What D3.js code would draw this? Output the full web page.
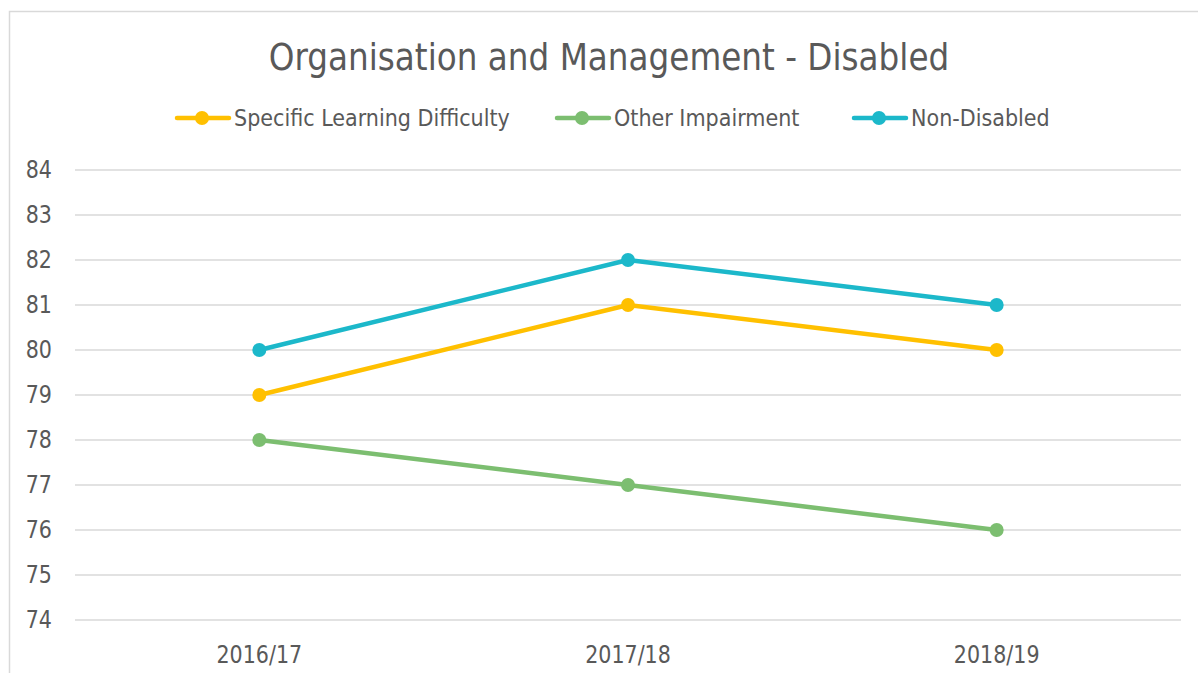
<!DOCTYPE html>
<html lang="en">
<head>
<meta charset="utf-8">
<style>
    body { margin: 0; background: #fff; }
    svg text { font-family: "DejaVu Sans", Verdana, sans-serif; fill: #595959; }
</style>
</head>
<body>
<svg id="chart"></svg>
<script src="https://d3js.org/d3.v7.min.js"></script>
<script>

    // data
    var years = ["2016/17", "2017/18", "2018/19"];
    var seriesNames = ["Specific Learning Difficulty", "Other Impairment", "Non-Disabled"];
    var seriesColors = ["#FFC000", "#7CBE70", "#1CB8CA"];
    var specificLearning = [79, 81, 80];
    var otherImpairment = [78, 77, 76];
    var nonDisabled = [80, 82, 81];
    var yTicks = [74, 75, 76, 77, 78, 79, 80, 81, 82, 83, 84];

    var width = 1198, height = 673;
    var plotLeft = 75, plotRight = 1181, plotTop = 170, plotBottom = 620;
    // DejaVu is wider than the Tahoma-like original, so squeeze it a bit
    var squeeze = "scale(0.86,1)";

    var svg = d3.select("#chart")
        .attr("width", width)
        .attr("height", height);

    // outer chart border (runs off the right and bottom edge)
    svg.append("rect")
        .attr("x", 9.5)
        .attr("y", 11.5)
        .attr("width", 1200)
        .attr("height", 700)
        .attr("fill", "none")
        .attr("stroke", "#d9d9d9")
        .attr("stroke-width", 1.5);

    var x = d3.scaleBand()
        .domain(years)
        .range([plotLeft, plotRight]);

    var y = d3.scaleLinear()
        .domain([74, 84])
        .range([plotBottom, plotTop]);

    // gridlines
    svg.append("g")
        .selectAll("line")
        .data(yTicks)
        .enter()
        .append("line")
        .attr("x1", plotLeft)
        .attr("x2", plotRight)
        .attr("y1", function (d) { return y(d); })
        .attr("y2", function (d) { return y(d); })
        .attr("stroke", "#d9d9d9")
        .attr("stroke-width", 1.5);

    // y axis labels
    var yAxis = d3.axisLeft(y).tickValues(yTicks).tickSize(0).tickPadding(0);
    var yg = svg.append("g")
        .attr("transform", "translate(52,0)")
        .call(yAxis);
    yg.select(".domain").remove();
    yg.selectAll("text")
        .attr("font-size", "24px")
        .attr("font-family", null)
        .attr("transform", squeeze)
        .attr("fill", "#595959");

    // x axis labels
    var xAxis = d3.axisBottom(x).tickSize(0).tickPadding(0);
    var xg = svg.append("g")
        .attr("transform", "translate(0,646)")
        .call(xAxis);
    xg.select(".domain").remove();
    xg.selectAll("text")
        .attr("font-size", "24px")
        .attr("transform", squeeze)
        .attr("fill", "#595959");
    svg.selectAll(".tick text").style("font-family", "DejaVu Sans");

    var allSeries = [specificLearning, otherImpairment, nonDisabled];

    var line = d3.line()
        .x(function (d, i) { return x(years[i]) + x.bandwidth() / 2; })
        .y(function (d) { return y(d); });

    // lines + markers
    for (var s = 0; s < allSeries.length; s++) {
        var g = svg.append("g");
        g.append("path")
            .attr("d", line(allSeries[s]))
            .attr("fill", "none")
            .attr("stroke", seriesColors[s])
            .attr("stroke-width", 4.5)
            .attr("stroke-linejoin", "round")
            .attr("stroke-linecap", "round");
        g.selectAll("circle")
            .data(allSeries[s])
            .enter()
            .append("circle")
            .attr("cx", function (d, i) { return x(years[i]) + x.bandwidth() / 2; })
            .attr("cy", function (d) { return y(d); })
            .attr("r", 7)
            .attr("fill", seriesColors[s]);
    }

    // title
    svg.append("g")
        .attr("transform", "translate(609,70)")
        .append("text")
        .attr("text-anchor", "middle")
        .attr("font-size", "38px")
        .attr("transform", squeeze)
        .text("Organisation and Management - Disabled");

    // legend
    var legendX = [175, 555, 852];
    var legend = svg.append("g");
    for (var k = 0; k < seriesNames.length; k++) {
        var lg = legend.append("g").attr("transform", "translate(" + legendX[k] + ",118)");
        lg.append("line")
            .attr("x1", 2).attr("x2", 54)
            .attr("y1", 0).attr("y2", 0)
            .attr("stroke", seriesColors[k])
            .attr("stroke-width", 4.5)
            .attr("stroke-linecap", "round");
        lg.append("circle")
            .attr("cx", 27).attr("cy", 0).attr("r", 7)
            .attr("fill", seriesColors[k]);
        lg.append("g")
            .attr("transform", "translate(59,8)")
            .append("text")
            .attr("font-size", "23px")
            .attr("transform", "scale(0.9,1)")
            .text(seriesNames[k]);
    }

</script>
</body>
</html>
